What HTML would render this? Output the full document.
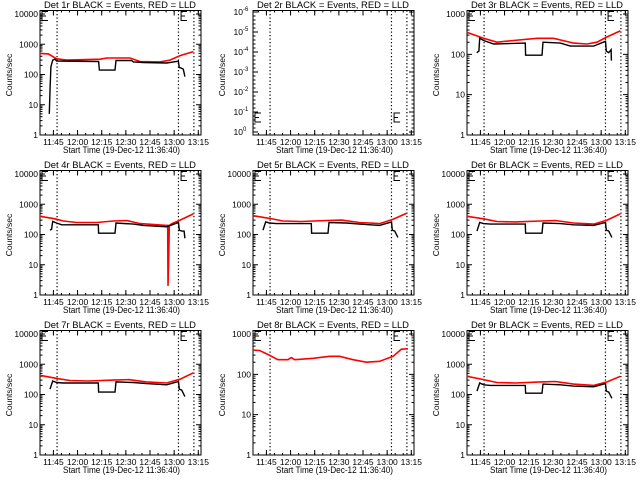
<!DOCTYPE html>
<html><head><meta charset="utf-8"><style>
html,body{margin:0;padding:0;background:#fff}
svg{display:block}
text{font-family:"Liberation Sans",sans-serif;fill:#000}
</style></head><body>
<svg id="c" width="640" height="480" viewBox="0 0 640 480" xmlns="http://www.w3.org/2000/svg"></svg>
<script>
// times in minutes since 11:36:40
const xTickLabels = ["11:45","12:00","12:15","12:30","12:45","13:00","13:15"];
const xTickMinutes = [8.33,23.33,38.33,53.33,68.33,83.33,98.33];
const dottedMinutes = [10.6,86,95.6];
const detNames = ["1r","2r","3r","4r","5r","6r","7r","8r","9r"];
const decadesPerPanel = [4,0,3,4,4,4,4,3,4];
// Det 1r
const d1BlackT = [5.8,6.2,6.8,7.9,9.3,10.3,36.4,36.9,46.6,47.2,56.9,58,64.2,78.7,84.9,85.9,86.5,88,89,90];
const d1BlackV = [5,30,180,300,320,280,270,140,140,290,290,260,250,240,270,280,170,160,150,85];
const d1RedT = [0,5.2,10.3,16.6,37.3,41.4,55.9,62.1,74.5,80.7,87,95.2];
const d1RedV = [500,480,330,300,320,350,350,270,260,300,420,570];
// Det 3r
const d3BlackT = [6,7.4,7.9,10.3,16.6,36.2,36.4,46.6,47.2,58,64.2,78.7,86,86.5,88,89.5,89.7];
const d3BlackV = [110,120,250,220,180,190,95,95,200,190,160,160,210,120,110,130,70];
const d3RedT = [0,10.3,18.6,28.9,43.5,53.8,66.2,74.5,80.7,87,95.2];
const d3RedV = [350,250,200,220,250,250,190,180,200,270,380];
// Det 4r
const d4BlackT = [6.2,7.2,7.9,10.3,13.5,36.2,36.4,46.6,47.2,58,64.2,78.7,86,86.5,88,89.5,90];
const d4BlackV = [140,150,270,240,210,210,110,110,240,220,200,180,250,140,130,130,75];
const d4RedT = [0,9.3,14.5,22.8,35.2,45.5,53.8,62.1,78.7,79.3,79.5,79.9,80.3,82,87,95.2];
const d4RedV = [400,330,280,250,250,280,290,230,200,200,2,12,200,230,300,480];
// Det 5r
const d5BlackT = [6.2,7.9,10.3,14.5,36.2,36.4,46.6,47.2,58,66,78.7,86,86.5,88,90];
const d5BlackV = [140,260,240,230,230,110,110,250,240,220,200,260,140,130,80];
const d5RedT = [0,10.3,18.6,30,45.5,55,66,78.7,87,95.2];
const d5RedV = [420,340,280,270,290,300,250,230,320,500];
// Det 6r
const d6BlackT = [6.2,7.9,10.3,14.5,36.2,36.4,46.6,47.2,58,66,78.7,86,86.5,88,90];
const d6BlackV = [130,250,230,220,220,110,110,240,230,210,200,250,140,130,80];
const d6RedT = [0,10.3,18.6,30,45.5,55,66,78.7,87,95.2];
const d6RedV = [400,330,270,260,280,290,240,220,300,480];
// Det 7r
const d7BlackT = [6.2,7.9,10.3,14.5,36.2,36.4,46.6,47.2,58,66,78.7,86,86.5,88,90];
const d7BlackV = [150,280,250,240,240,120,120,260,250,230,210,270,150,140,85];
const d7RedT = [0,10.3,18.6,30,45.5,55,66,78.7,87,95.2];
const d7RedV = [430,340,290,280,300,310,260,240,320,520];
// Det 8r
const d8BlackT = [];
const d8BlackV = [];
const d8RedT = [0,4.1,9.3,15.5,21.7,23.8,25.9,37.3,47.6,53.8,62.1,70.4,78.7,87,92.2,96.3];
const d8RedV = [400,390,310,230,230,260,230,250,280,280,230,200,210,280,420,430];
// Det 9r
const d9BlackT = [6.2,7.9,10.3,14.5,36.2,36.4,46.6,47.2,58,66,78.7,86,86.5,88,90];
const d9BlackV = [130,240,210,200,200,110,110,220,210,190,180,230,130,120,75];
const d9RedT = [0,10.3,18.6,30,45.5,55,66,78.7,87,95.2];
const d9RedV = [400,310,250,240,260,270,220,200,260,400];
const blackTs = [d1BlackT,[],d3BlackT,d4BlackT,d5BlackT,d6BlackT,d7BlackT,d8BlackT,d9BlackT];
const blackVs = [d1BlackV,[],d3BlackV,d4BlackV,d5BlackV,d6BlackV,d7BlackV,d8BlackV,d9BlackV];
const redTs = [d1RedT,[],d3RedT,d4RedT,d5RedT,d6RedT,d7RedT,d8RedT,d9RedT];
const redVs = [d1RedV,[],d3RedV,d4RedV,d5RedV,d6RedV,d7RedV,d8RedV,d9RedV];
const p2Labels = ["0","-1","-2","-3","-4","-5","-6"];

const NS="http://www.w3.org/2000/svg";
const svg=document.getElementById('c');
function mk(tag,parent,attrs){const e=document.createElementNS(NS,tag);for(const k in attrs)e.setAttribute(k,attrs[k]);parent.appendChild(e);return e;}

const colX=[0,213,427], rowY=[0,160,320];
for(let p=0;p<9;p++){
  const ox=colX[p%3], oy=rowY[Math.floor(p/3)];
  const g=mk('g',svg,{});
  
  
  const X0=ox+40,X1=ox+201,Y0=oy+10.5,Y1=oy+135;
  const xs=m=>X0+(X1-X0)*m/100;
  const dec=decadesPerPanel[p];
  const dpx=dec>0?(Y1-(oy+14))/dec:0;
  const ys=v=>Y1-Math.log10(Math.max(v,1e-3))*dpx;
  // title
  const t=mk('text',g,{x:ox+44,y:oy+8,'font-size':'9.5',textLength:152,lengthAdjust:'spacingAndGlyphs'});
  t.textContent='Det '+detNames[p]+' BLACK = Events, RED = LLD';
  
  
  // frame
  const fr=mk('rect',g,{x:X0,y:Y0,width:X1-X0,height:Y1-Y0,fill:'none',stroke:'#000','stroke-width':1});
  
  
  // y title
  const yt=mk('text',g,{x:0,y:0,'font-size':'8.5','text-anchor':'middle',transform:`translate(${ox+12},${oy+75}) rotate(-90)`});
  yt.textContent='Counts/sec';
  
  
  // x title
  const xt=mk('text',g,{x:ox+63,y:oy+153,'font-size':'9',textLength:117,lengthAdjust:'spacingAndGlyphs'});
  xt.textContent='Start Time (19-Dec-12 11:36:40)';
  
  
  // x ticks
  for(let i=0;i<xTickMinutes.length;i++){
    const x=xs(xTickMinutes[i]);
    mk('path',g,{d:`M${x} ${Y1}v-5M${x} ${Y0}v5`,stroke:'#000','stroke-width':1});
    const l=mk('text',g,{x:x,y:oy+145,'font-size':'8.5','text-anchor':'middle'});
    l.textContent=xTickLabels[i];
    
    
  }
  for(let m=3.33;m<100;m+=5){const x=xs(m);mk('path',g,{d:`M${x} ${Y1}v-2M${x} ${Y0}v2`,stroke:'#000','stroke-width':1});}
  // y ticks
  if(dec>0){
    for(let d=0;d<=dec;d++){
      const y=ys(Math.pow(10,d));
      mk('path',g,{d:`M${X0} ${y}h5M${X1} ${y}h-5`,stroke:'#000','stroke-width':1});
      const l=mk('text',g,{x:X0-2,y:y+3,'font-size':'8.5','text-anchor':'end'});
      l.textContent=String(Math.pow(10,d));
      
      
      for(let k=2;k<10;k++){const yy=ys(k*Math.pow(10,d));if(yy<Y0)break;mk('path',g,{d:`M${X0} ${yy}h2.5M${X1} ${yy}h-2.5`,stroke:'#000','stroke-width':1});}
    }
  } else {
    for(let i=0;i<7;i++){
      const y=Y1-3-i*20;
      mk('path',g,{d:`M${X0} ${y}h5M${X1} ${y}h-5`,stroke:'#000','stroke-width':1});
      for(let k=1;k<5;k++){const yy=y-k*4;if(yy>Y0)mk('path',g,{d:`M${X0} ${yy}h2.5M${X1} ${yy}h-2.5`,stroke:'#000','stroke-width':1});}
      const l=mk('text',g,{x:X0-10,y:y+3,'font-size':'8.5','text-anchor':'end'});
      l.textContent='10';
      
      
      const s=mk('text',g,{x:X0-10,y:y-1,'font-size':'6','text-anchor':'start'});
      s.textContent=p2Labels[i];
      
      
    }
  }
  // dotted lines
  for(const m of dottedMinutes){
    const x=xs(m);
    const dl=mk('line',g,{x1:x,x2:x,y1:Y0,y2:Y1,stroke:'#000','stroke-width':1.2,'stroke-dasharray':'1.2 2.3'});
    
    
  }
  // bracket marks
  const by=(p===1)?Y1-22:Y0+1;
  for(const bx of [X0+2,xs(87)+1]){
    const b=mk('path',g,{d:`M${bx+6} ${by}h-6v9h6M${bx} ${by+4.5}h4`,fill:'none',stroke:'#000','stroke-width':1});
    
    
  }
  // series
  if(dec>0){
    const line=(T,V)=>{let d='';for(let i=0;i<T.length;i++){const x=xs(T[i]),y=Math.min(ys(V[i]),Y1);d+=(i?'L':'M')+x.toFixed(1)+' '+y.toFixed(1);}return d;};
    if(redTs[p].length){
      const r=mk('path',g,{d:line(redTs[p],redVs[p]),fill:'none',stroke:'#ff0000','stroke-width':1.6});
      
      
    }
    if(blackTs[p].length){
      const b=mk('path',g,{d:line(blackTs[p],blackVs[p]),fill:'none',stroke:'#000','stroke-width':1.4});
      
      
    }
  }
}
</script>
</body></html>
